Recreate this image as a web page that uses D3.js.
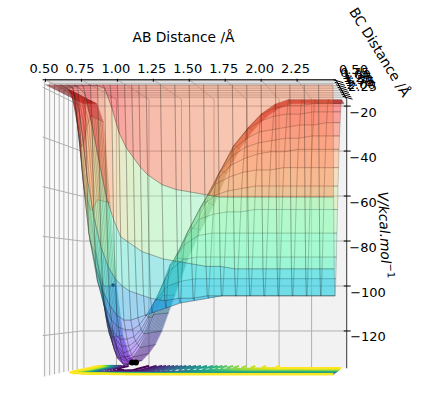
<!DOCTYPE html>
<html>
<head>
<meta charset="utf-8">
<script src="https://cdnjs.cloudflare.com/ajax/libs/d3/7.8.5/d3.min.js"></script>
<style>
html, body { margin: 0; padding: 0; background: #fff; }
text { font-family: "DejaVu Sans", sans-serif; font-size: 13px; fill: #000; }
.axlabel { font-size: 13.8px; }
</style>
</head>
<body>
<svg id="chart" width="423" height="393"></svg>
<script>
// distances in angstrom
var abValues = [0.5,0.6,0.65,0.7,0.75,0.8,0.85,0.9,0.95,1.0,1.05,1.1,1.15,1.2,1.3,1.4,1.5,1.6,1.7,1.8,1.9,2.0,2.1,2.2,2.3,2.4,2.5];
var bcValues = [0.4,0.5,0.6,0.7,0.8,0.9,1.0,1.1,1.2,1.3,1.4,1.5,1.6,1.7,1.8,1.9,2.0,2.1,2.2,2.3,2.4,2.5];

// potential, one row per bc value
var potential = [
  [-19,-19,-19,-19,-19,-19,-19,-19,-19,-19,-19,-19,-19,-19,-19,-19,-19,-19,-19,-19,-19,-19,-19,-19,-19,-19,-19],
  [-19,-19,-19,-19,-19,-19,-19,-20,-28,-38,-44,-48,-52,-55,-59,-61,-62,-63,-64,-64,-64,-64,-64,-64,-64,-64,-64],
  [-19,-19,-19,-19,-22,-35,-50,-64,-73,-80,-82,-84,-86,-87,-89,-90,-91,-92,-92,-93,-93,-93,-93,-93,-93,-93,-93],
  [-19,-19,-19,-30,-55,-72,-84,-92,-97,-100,-102,-103,-104,-105,-106,-105,-105,-104,-104,-104,-104,-104,-104,-104,-104,-104,-104],
  [-19,-19,-22,-50,-78,-92,-102,-108,-112,-114,-114,-113,-112,-111,-109,-107,-106,-105,-104,-104,-104,-104,-104,-104,-104,-104,-104],
  [-19,-19,-28,-58,-82,-98,-108,-114,-117,-118,-118,-116,-112,-107,-100,-98,-97,-97,-97,-97,-97,-97,-97,-97,-97,-97,-97],
  [-19,-19,-35,-62,-84,-100,-112,-119,-122,-122,-121,-118,-113,-106,-94,-89,-88,-88,-88,-88,-88,-88,-88,-88,-88,-88,-88],
  [-19,-19,-40,-64,-85,-101,-115,-122,-125,-125,-123,-119,-113,-106,-91,-83,-79,-78,-78,-78,-78,-78,-78,-78,-78,-78,-78],
  [-19,-19,-42,-66,-86,-103,-117,-125,-128,-127,-124,-120,-113,-105,-91,-80,-72,-70,-69,-69,-68,-68,-68,-68,-68,-68,-68],
  [-19,-19,-40,-68,-90,-108,-120,-127,-130,-129,-125,-120,-113,-105,-90,-78,-67,-62,-60,-59,-58,-58,-58,-58,-58,-58,-58],
  [-19,-19,-36,-68,-93,-113,-124,-129,-131,-130,-126,-120,-112,-105,-90,-77,-66,-57,-54,-52,-51,-51,-50,-50,-50,-50,-50],
  [-19,-19,-32,-66,-96,-117,-127,-131,-132,-130,-126,-120,-112,-104,-89,-76,-65,-55,-49,-46,-44,-43,-43,-42,-42,-42,-42],
  [-19,-19,-30,-65,-98,-120,-129,-133,-133,-130,-126,-120,-112,-104,-88,-75,-64,-53,-45,-41,-39,-38,-37,-37,-36,-36,-36],
  [-19,-19,-27,-63,-100,-122,-131,-134,-133,-130,-126,-120,-112,-104,-88,-75,-64,-52,-42,-37,-34,-33,-32,-31,-31,-30,-30],
  [-19,-19,-27,-63,-100,-122,-131,-134,-133,-130,-126,-120,-112,-104,-88,-75,-64,-51,-40,-33,-29,-27,-26,-26,-25,-25,-25],
  [-19,-19,-27,-63,-100,-122,-131,-134,-133,-130,-126,-120,-112,-104,-88,-75,-63,-50,-39,-32,-26,-23,-22,-22,-21,-21,-21],
  [-19,-19,-27,-63,-100,-122,-131,-134,-133,-130,-126,-120,-112,-104,-88,-75,-64,-50,-39,-31,-25,-21,-19,-19,-19,-19,-19],
  [-19,-19,-27,-63,-100,-122,-131,-134,-133,-130,-126,-120,-112,-104,-88,-75,-64,-50,-39,-31,-25,-21,-19,-19,-19,-19,-19],
  [-19,-19,-27,-63,-100,-122,-131,-134,-133,-130,-126,-120,-112,-104,-88,-75,-64,-50,-39,-31,-25,-21,-19,-19,-19,-19,-19],
  [-19,-19,-27,-63,-100,-122,-131,-134,-133,-130,-126,-120,-112,-104,-88,-75,-64,-50,-39,-31,-25,-21,-19,-19,-19,-19,-19],
  [-19,-19,-27,-63,-100,-122,-131,-134,-133,-130,-126,-120,-112,-104,-88,-75,-64,-50,-39,-31,-25,-21,-19,-19,-19,-19,-19],
  [-19,-19,-27,-63,-100,-122,-131,-134,-133,-130,-126,-120,-112,-104,-88,-75,-64,-50,-39,-31,-25,-21,-19,-19,-19,-19,-19]
];

// trajectory points on the surface
var pointAb = [0.93, 0.87, 0.90];
var pointBc = [0.74, 2.5, 2.5];
var pointV = [-99.6, -134, -134];

var abTicks = [0.5,0.75,1.0,1.25,1.5,1.75,2.0,2.25];
var bcTicks = [0.5,0.75,1.0,1.25,1.5,1.75,2.0,2.25];
var vTicks = [-20,-40,-60,-80,-100,-120];
var floorLevels = [-130,-125,-120,-115,-110,-105,-100,-95,-90,-85,-80,-75,-70,-65,-60,-55,-50,-45,-40,-35,-30,-25,-21];

var abLim = [0.48, 2.52], bcLim = [0.4, 2.5], vLim = [-136.6, -17];
var floorV = -135.5;

var svg = d3.select('#chart');

var xFront = d3.scaleLinear().domain([0.5, 2.5]).range([45.5, 333]);
var yFront = d3.scaleLinear().domain([-100, -120]).range([286, 335.7]);
var depth = d3.scaleLinear().domain(bcLim).range([0, 1]);
var vanish = [450, 286];

// perspective: everything shrinks toward the vanishing point as bc grows
function project(a, b, v) {
  var s = 1 / (1 + 0.105 * depth(b));
  return [vanish[0] + (xFront(a) - vanish[0]) * s, vanish[1] + (yFront(v) - vanish[1]) * s];
}

var line = d3.line();

function seg(g, p, q, color, width) {
  g.append('path').attr('d', line([p, q])).attr('stroke', color).attr('stroke-width', width).attr('fill', 'none');
}

// panes
var a0 = abLim[0], a1 = abLim[1], b0 = bcLim[0], b1 = bcLim[1], v0 = vLim[0], v1 = vLim[1];
var panes = svg.append('g');
function pane(pts, color) {
  panes.append('path').attr('d', line(pts) + 'Z').attr('fill', color);
}
pane([project(a0,b0,v0), project(a0,b1,v0), project(a0,b1,v1), project(a0,b0,v1)], 'rgb(249,249,249)');
pane([project(a0,b1,v0), project(a1,b1,v0), project(a1,b1,v1), project(a0,b1,v1)], 'rgb(242,242,242)');
pane([project(a0,b0,v1), project(a1,b0,v1), project(a1,b1,v1), project(a0,b1,v1)], 'rgb(236,236,236)');

// grid
var grid = svg.append('g');
abTicks.forEach(function (a) {
  seg(grid, project(a,b0,v1), project(a,b1,v1), '#b0b0b0', 1);
  seg(grid, project(a,b1,v1), project(a,b1,v0), '#b0b0b0', 1);
});
bcTicks.forEach(function (b) {
  seg(grid, project(a0,b,v1), project(a1,b,v1), '#b0b0b0', 1);
  seg(grid, project(a0,b,v1), project(a0,b,v0), '#b0b0b0', 1);
});
vTicks.forEach(function (v) {
  seg(grid, project(a0,b0,v), project(a0,b1,v), '#b0b0b0', 1);
  seg(grid, project(a0,b1,v), project(a1,b1,v), '#b0b0b0', 1);
});

// surface faces, back rows first
var colorT = d3.scaleLinear().domain([-131, -25]).range([0, 1]).clamp(true);
function rainbow(t) {
  var r = Math.min(1, Math.abs(2 * t - 0.5)), g = Math.sin(Math.PI * t), b = Math.cos(Math.PI * t / 2);
  return 'rgba(' + Math.round(r * 255) + ',' + Math.round(g * 255) + ',' + Math.round(Math.max(b, 0) * 255) + ',0.37)';
}
var faces = [];
for (var j = 0; j < bcValues.length - 1; j++) {
  for (var i = 0; i < abValues.length - 1; i++) {
    faces.push({
      i: i, j: j,
      mean: d3.mean([potential[j][i], potential[j][i+1], potential[j+1][i], potential[j+1][i+1]]),
      pts: [
        project(abValues[i], bcValues[j], potential[j][i]),
        project(abValues[i+1], bcValues[j], potential[j][i+1]),
        project(abValues[i+1], bcValues[j+1], potential[j+1][i+1]),
        project(abValues[i], bcValues[j+1], potential[j+1][i])
      ]
    });
  }
}
faces.sort(function (p, q) { return q.j - p.j; });
svg.append('g').selectAll('path').data(faces).enter().append('path')
  .attr('d', function (d) { return line(d.pts) + 'Z'; })
  .attr('fill', function (d) { return rainbow(colorT(d.mean)); })
  .attr('stroke', 'rgba(30,30,30,0.38)')
  .attr('stroke-width', 0.55);

// contour lines on the floor
var floor = svg.append('g').attr('fill', 'none').attr('stroke-width', 2);
var levelColor = d3.scaleLinear().domain([-130, -21]).range([0, 1]);
function crossings(tri, level) {
  var out = [];
  for (var k = 0; k < 3; k++) {
    var p = tri[k], q = tri[(k + 1) % 3];
    if ((p[2] < level) !== (q[2] < level)) {
      var f = (level - p[2]) / (q[2] - p[2]);
      out.push(project(p[0] + (q[0] - p[0]) * f, p[1] + (q[1] - p[1]) * f, floorV));
    }
  }
  return out;
}
floorLevels.forEach(function (level) {
  var d = '';
  for (var j = 0; j < bcValues.length - 1; j++) {
    for (var i = 0; i < abValues.length - 1; i++) {
      var c00 = [abValues[i], bcValues[j], potential[j][i]];
      var c10 = [abValues[i+1], bcValues[j], potential[j][i+1]];
      var c01 = [abValues[i], bcValues[j+1], potential[j+1][i]];
      var c11 = [abValues[i+1], bcValues[j+1], potential[j+1][i+1]];
      [[c00, c10, c11], [c00, c11, c01]].forEach(function (tri) {
        var c = crossings(tri, level);
        if (c.length === 2) d += line(c);
      });
    }
  }
  floor.append('path').attr('d', d).attr('stroke', d3.interpolateViridis(levelColor(level)));
});

// axes
var axes = svg.append('g');
seg(axes, project(a0,b0,v1), project(a1,b0,v1), '#000', 1);
seg(axes, project(a1,b0,v1), project(a1,b1,v1), '#000', 1);
seg(axes, project(a1,b1,v1), project(a1,b1,v0), '#333', 1);

abTicks.forEach(function (a) {
  var p = project(a, b0, v1);
  seg(axes, [p[0], p[1] - 1], [p[0], p[1] + 2], '#000', 1);
  axes.append('text').attr('x', p[0] - 1.5).attr('y', 68).attr('text-anchor', 'middle')
    .attr('dominant-baseline', 'central').text(a.toFixed(2));
});
bcTicks.forEach(function (b) {
  var p = project(a1, b, v1);
  seg(axes, [p[0] - 3, p[1] - 1], [p[0] + 7, p[1] + 2], '#000', 1);
  axes.append('text').attr('x', p[0] + 17).attr('y', p[1] - 11).attr('text-anchor', 'middle')
    .attr('dominant-baseline', 'central').text(b.toFixed(2));
});
vTicks.forEach(function (v) {
  var p = project(a1, b1, v);
  seg(axes, [p[0] - 3, p[1]], [p[0] + 4, p[1]], '#000', 1);
  axes.append('text').attr('x', v <= -100 ? 368 : 363).attr('y', p[1] + 6).attr('text-anchor', 'middle')
    .attr('dominant-baseline', 'central').text('\u2212' + Math.abs(v));
});

// trajectory dots
svg.append('g').selectAll('circle').data(pointAb).enter().append('circle')
  .attr('cx', function (d, i) { return project(d, pointBc[i], pointV[i])[0]; })
  .attr('cy', function (d, i) { return project(d, pointBc[i], pointV[i])[1]; })
  .attr('r', function (d, i) { return i === 0 ? 1.8 : 3; })
  .attr('fill', function (d, i) { return i === 0 ? '#14527f' : '#000'; });

// labels
svg.append('text').attr('class', 'axlabel').attr('x', 183.5).attr('y', 37).attr('text-anchor', 'middle')
  .attr('dominant-baseline', 'central').text('AB Distance /\u00c5');
svg.append('text').attr('class', 'axlabel').attr('transform', 'translate(380,52) rotate(58)').attr('text-anchor', 'middle')
  .attr('dominant-baseline', 'central').text('BC Distance /\u00c5');
var vLabel = svg.append('text').attr('class', 'axlabel').attr('transform', 'translate(385,235) rotate(87.5)').attr('text-anchor', 'middle')
  .attr('dominant-baseline', 'central').style('font-style', 'italic');
vLabel.append('tspan').text('V/kcal.mol');
vLabel.append('tspan').attr('dy', -5).style('font-size', '10px').style('font-style', 'normal').text('\u22121');
</script>
</body>
</html>
